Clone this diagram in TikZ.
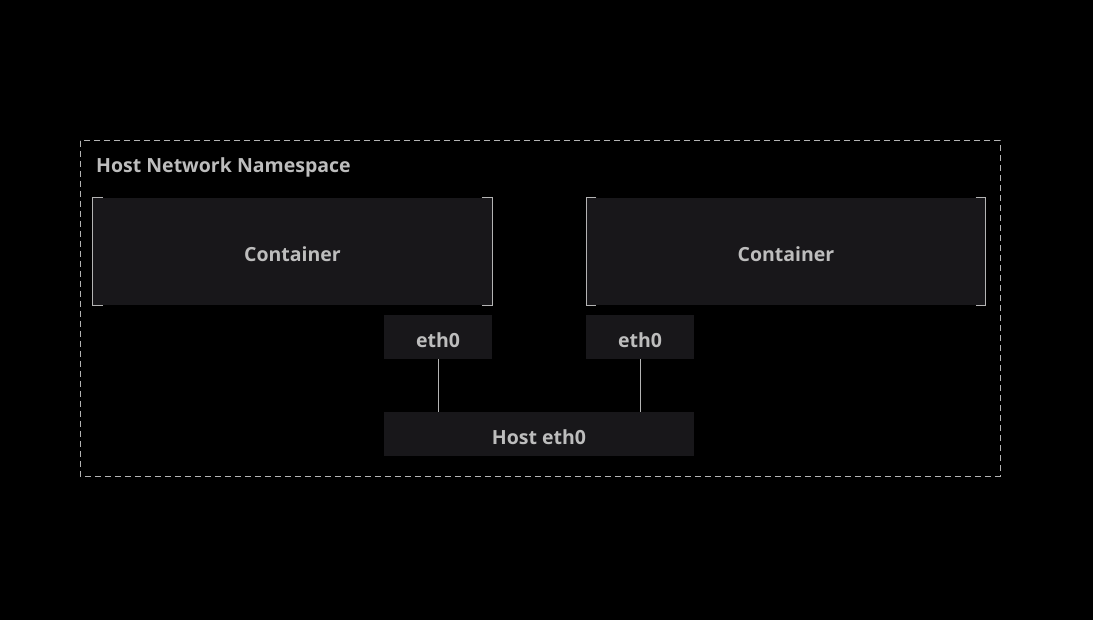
\documentclass[tikz,border=0pt]{standalone}
\usepackage{fontspec}
\setmainfont{Open Sans}
\usepackage{xcolor}
\usepackage{tikz}
\usetikzlibrary{calc, positioning}

\definecolor{boxfill}{HTML}{18171A}
\definecolor{labeltext}{HTML}{BDBDBD}
\definecolor{edgegray}{HTML}{B4B4B4}

\begin{document}
\begin{tikzpicture}[x=1pt, y=-1pt,
            box/.style={fill=boxfill, inner sep=0pt, text=labeltext, text height=21pt, text depth=0pt, font=\fontsize{19.5}{22}\selectfont\bfseries},
            container/.style={box, minimum width=399pt, minimum height=107pt},
            iface/.style={box, minimum width=108pt, minimum height=44pt},
            bracket/.style={draw=edgegray, line width=1.2pt},
            link/.style={-, draw=edgegray, line width=1pt}
        ]

        % Background and frame
        \useasboundingbox (0,0) rectangle (1093,620);
        \fill[black] (0,0) rectangle (1093,620);
        \draw[edgegray, line width=1pt, dash pattern=on 6pt off 4pt] (80,141) rectangle (1000,476);
        \node[anchor=west, inner sep=0pt, text=labeltext, font=\fontsize{19.5}{22}\selectfont\bfseries] (title) at (96,167) {Host Network Namespace};

        % Containers
        \node[container] (C1) at (292.5,251.5) {Container};
        \node[container] (C2) at (786,251.5) {Container};

        % Corner brackets
        \foreach \c in {C1, C2} {
            \draw[bracket] ([xshift=10pt]\c.north west) -- (\c.north west) -- (\c.south west) -- ([xshift=10pt]\c.south west);
            \draw[bracket] ([xshift=-10pt]\c.north east) -- (\c.north east) -- (\c.south east) -- ([xshift=-10pt]\c.south east);
        }

        % Interfaces
        \node[iface] (E1) at (438,337) {eth0};
        \node[iface] (E2) at (640,337) {eth0};
        \node[iface, minimum width=310pt] (H) at (539,434) {Host eth0};

        % Links
        \draw[link] (E1.south) -- (E1.south |- H.north);
        \draw[link] (E2.south) -- (E2.south |- H.north);

    \end{tikzpicture}
\end{document}
